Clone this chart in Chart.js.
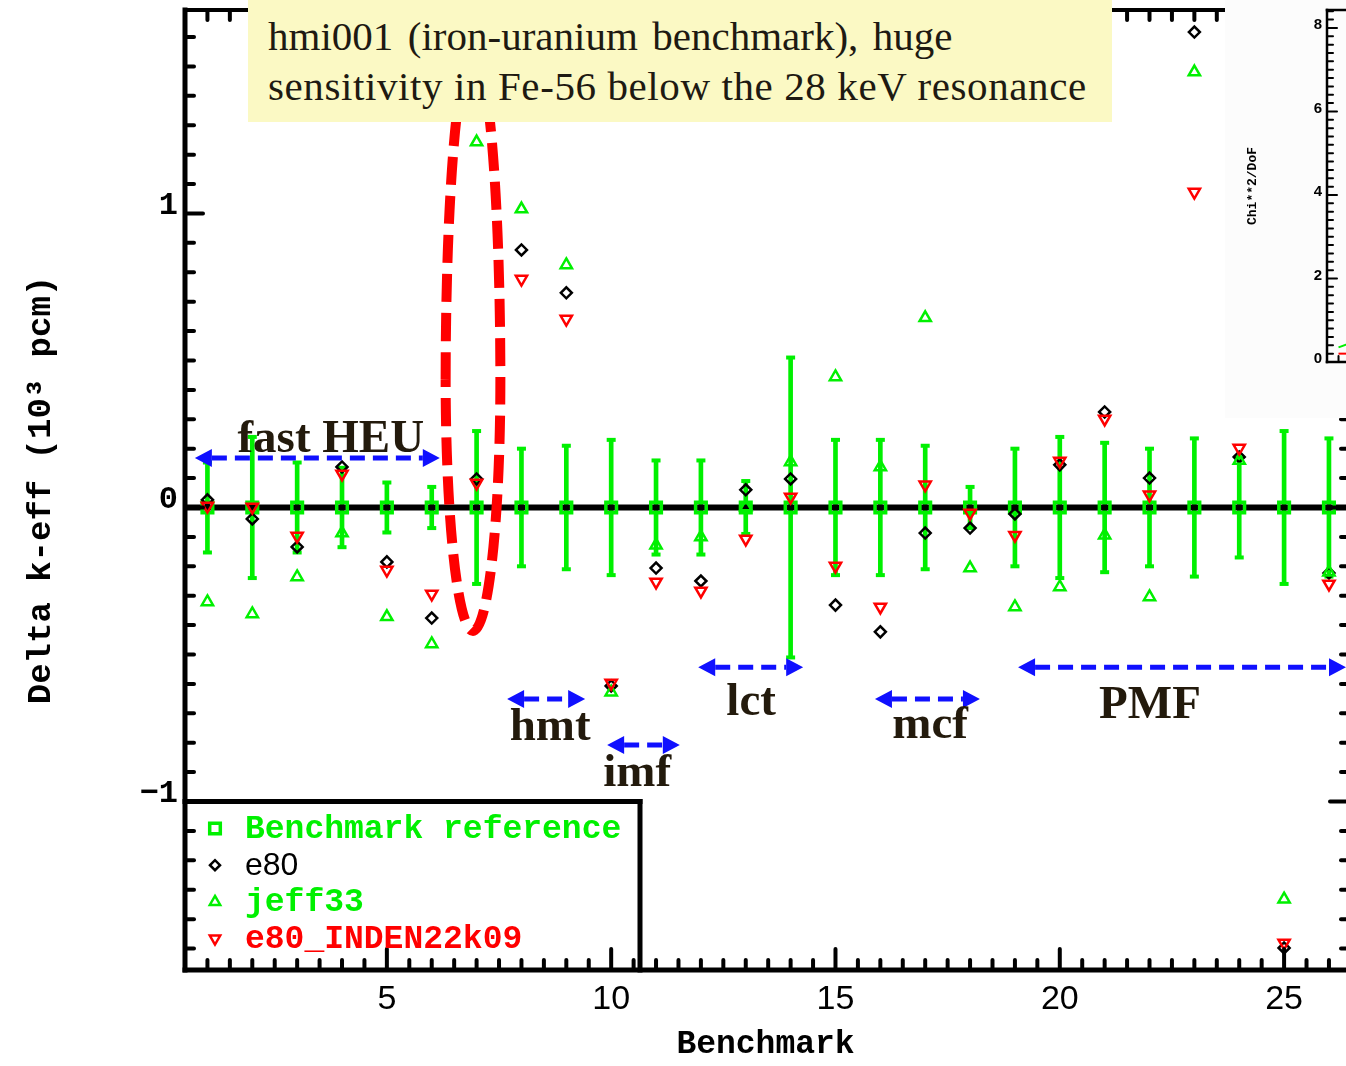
<!DOCTYPE html>
<html>
<head>
<meta charset="utf-8">
<script src="https://cdn.jsdelivr.net/npm/chart.js@4.4.1/dist/chart.umd.min.js"></script>
<style>
  html, body { margin: 0; padding: 0; background: #fff; }
  #wrap { position: relative; width: 1346px; height: 1066px; overflow: hidden; }
  #main { position: absolute; left: 0; top: 0; }
  #note {
    position: absolute; left: 248px; top: 0; width: 864px; height: 122px;
    box-sizing: border-box; padding: 11px 0 0 20px; background: #fbf9c4;
    font: 41px "Liberation Serif", serif; line-height: 50px; color: #1e1a12; white-space: nowrap;
  }
  #note .wide { letter-spacing: 0.6px; }
  #note .gap { word-spacing: -3px; }
  #inset { position: absolute; left: 1225px; top: 0; width: 121px; height: 418px; background: #fcfcfc; overflow: hidden; }
  #chi { position: absolute; left: 0; top: 0; }
</style>
</head>
<body>
<div id="wrap">
  <canvas id="main" width="1346" height="1066"></canvas>
  <div id="note"><span class="gap">hmi001&nbsp; (iron-uranium&nbsp; benchmark),&nbsp; huge</span><br><span class="wide">sensitivity in Fe-56 below the 28 keV resonance</span></div>
  <div id="inset"><canvas id="chi" width="400" height="418"></canvas></div>
</div>
<script>
// benchmark index on x, delta k-eff in units of 1000 pcm on y
const benchmarks = [1, 2, 3, 4, 5, 6, 7, 8, 9, 10, 11, 12, 13, 14, 15, 16, 17, 18, 19, 20, 21, 22, 23, 24, 25, 26];
const reference = [0, 0, 0, 0, 0, 0, 0, 0, 0, 0, 0, 0, 0, 0, 0, 0, 0, 0, 0, 0, 0, 0, 0, 0, 0, 0];
const referenceError = [0.153, 0.24, 0.153, 0.135, 0.085, 0.07, 0.26, 0.20, 0.21, 0.23, 0.16, 0.16, 0.09, 0.51,
  0.23, 0.23, 0.21, 0.07, 0.20, 0.24, 0.22, 0.20, 0.235, 0.17, 0.26, 0.235];
const e80 = [0.026, -0.039, -0.134, 0.138, -0.185, -0.376, 0.097, 0.876, 0.730, -0.607, -0.206, -0.250, 0.060,
  0.097, -0.332, -0.423, -0.087, -0.070, -0.022, 0.145, 0.325, 0.100, 1.617, 0.172, -1.498, -0.223];
const jeff33 = [-0.321, -0.362, -0.236, -0.087, -0.372, -0.464, 1.243, 1.015, 0.825, -0.628, -0.128, -0.100, 0.002,
  0.155, 0.444, 0.138, 0.645, -0.206, -0.338, -0.270, -0.094, -0.304, 1.481, 0.160, -1.332, -0.220];
const e80Inden = [0.005, 0.002, -0.097, 0.114, -0.213, -0.294, 0.083, 0.777, 0.641, -0.597, -0.253, -0.284, -0.107,
  0.036, -0.199, -0.338, 0.077, -0.019, -0.094, 0.158, 0.301, 0.043, 1.073, 0.202, -1.481, -0.260];

const xTickValues = [5, 10, 15, 20, 25];
const yTickValues = [-1, 0, 1];

// benchmark families marked with arrows
const groupNames = ['fast HEU', 'hmt', 'imf', 'lct', 'mcf', 'PMF'];
const groupStart = [0.72, 7.68, 9.91, 11.94, 15.88, 19.07];
const groupEnd = [6.18, 9.42, 11.53, 14.28, 18.22, 26.38];

// chi**2/DoF panel
const chiX = [1, 2];
const chiJeff = [0.35, 0.55];
const chiInden = [0.2, 0.2];
const chiTicks = [0, 2, 4, 6, 8];

const X_MIN = 0.5, X_MAX = 26.38, Y_MIN = -1.573, Y_MAX = 1.692;
const GREEN = '#00f000', RED = '#ff0000', BLUE = '#1010ff', INK = '#231a0c';

const pts = vals => benchmarks.map((b, i) => ({x: b, y: vals[i]}));
const bars = benchmarks.map((b, i) => ({x: b, y: [reference[i] - referenceError[i], reference[i] + referenceError[i]]}));
const caps = benchmarks.flatMap((b, i) => [
  {x: b, y: reference[i] - referenceError[i]},
  {x: b, y: reference[i] + referenceError[i]}
]);

function ticksOn(chart, cb) {
  const {ctx} = chart;
  ctx.save();
  ctx.strokeStyle = '#000';
  ctx.lineCap = 'round';
  cb(ctx);
  ctx.restore();
}

function seg(ctx, x1, y1, x2, y2) {
  ctx.beginPath();
  ctx.moveTo(x1, y1);
  ctx.lineTo(x2, y2);
  ctx.stroke();
}

// keep the plot box exactly where afterFit puts it
function noPadX(s, h) { s.height = h; s.paddingLeft = 0; s.paddingRight = 0; }
function noPadY(s, w) { s.width = w; s.paddingTop = 0; s.paddingBottom = 0; }

// axis frame with inward ticks
const framePlugin = {
  id: 'frame',
  afterDatasetsDraw(chart) {
    const a = chart.chartArea, x = chart.scales.x, y = chart.scales.y;
    ticksOn(chart, ctx => {
      ctx.lineWidth = 4;
      for (let i = -15; i <= 16; i++) {
        const py = y.getPixelForValue(i / 10);
        const major = i % 10 === 0;
        seg(ctx, a.left, py, a.left + (major ? 18 : 9), py);
        seg(ctx, a.right - (major ? 16 : 5), py, a.right, py);
      }
      for (let i = 2; i <= 52; i++) {
        const v = i / 2;
        const px = x.getPixelForValue(v);
        const len = v % 5 === 0 ? 21 : 10;
        seg(ctx, px, a.bottom, px, a.bottom - len);
        seg(ctx, px, a.top, px, a.top + len);
      }
      ctx.lineCap = 'square';
      ctx.lineWidth = 5;
      seg(ctx, a.left, a.top, a.left, a.bottom);
      seg(ctx, a.left, a.bottom, a.right, a.bottom);
      ctx.lineWidth = 4;
      seg(ctx, a.left, a.top, a.right, a.top);
    });
  }
};

// boxed legend in the lower-left corner
const legendPlugin = {
  id: 'boxLegend',
  afterDraw(chart) {
    const {ctx} = chart;
    const a = chart.chartArea, y = chart.scales.y;
    const top = y.getPixelForValue(-1), right = a.left + 455;
    ctx.save();
    ctx.strokeStyle = '#000';
    ctx.lineWidth = 5;
    ctx.lineCap = 'square';
    seg(ctx, a.left, top, right, top);
    seg(ctx, right, top, right, a.bottom);
    const rows = [
      {ds: 3, style: 'rect', r: 7.5, rot: 0, font: 'bold 33px "Liberation Mono"'},
      {ds: 2, style: 'rectRot', r: 5, rot: 0, font: '32px "Liberation Sans"'},
      {ds: 1, style: 'triangle', r: 6, rot: 0, font: 'bold 33px "Liberation Mono"'},
      {ds: 0, style: 'triangle', r: 6, rot: 180, font: 'bold 33px "Liberation Mono"'}
    ];
    rows.forEach((row, k) => {
      const d = chart.data.datasets[row.ds];
      const py = top + 27 + k * 36.7;
      ctx.strokeStyle = d.borderColor;
      ctx.fillStyle = 'rgba(0,0,0,0)';
      ctx.lineWidth = k === 0 ? 3.5 : 2.5;
      Chart.helpers.drawPoint(ctx, {pointStyle: row.style, radius: row.r, rotation: row.rot, borderWidth: ctx.lineWidth}, a.left + 30, py);
      ctx.fillStyle = d.borderColor;
      ctx.font = row.font;
      ctx.textBaseline = 'middle';
      ctx.textAlign = 'left';
      ctx.fillText(d.label, a.left + 60, py + 1);
    });
    ctx.restore();
  }
};

// family arrows, their names and the ring around hmi001
const notesPlugin = {
  id: 'notes',
  afterDraw(chart) {
    const {ctx} = chart;
    const x = chart.scales.x, y = chart.scales.y;
    const arrowY = [0.168, -0.651, -0.808, -0.543, -0.651, -0.543];
    const nameX = [3.75, 8.64, 10.58, 13.12, 17.11, 22.01];
    const nameY = [0.189, -0.791, -0.947, -0.706, -0.784, -0.716];
    ctx.save();

    // ring: a taller upper half so it runs up under the note box
    const cx = x.getPixelForValue(6.92), cy = y.getPixelForValue(0.434);
    const rx = x.getPixelForValue(6.92 + 0.61) - cx;
    const ryTop = cy - y.getPixelForValue(0.434 + 1.12);
    const ryBot = y.getPixelForValue(0.434 - 0.854) - cy;
    ctx.strokeStyle = RED;
    ctx.lineWidth = 10;
    ctx.setLineDash([28, 11]);
    ctx.beginPath();
    ctx.ellipse(cx, cy, rx, ryTop, 0, Math.PI, Math.PI * 2);
    ctx.ellipse(cx, cy, rx, ryBot, 0, 0, Math.PI);
    ctx.stroke();

    // arrows
    const head = 17, half = 9;
    groupNames.forEach((name, i) => {
      const x1 = x.getPixelForValue(groupStart[i]), x2 = x.getPixelForValue(groupEnd[i]);
      const py = y.getPixelForValue(arrowY[i]);
      ctx.strokeStyle = BLUE;
      ctx.fillStyle = BLUE;
      ctx.lineWidth = 5;
      ctx.setLineDash([15, 8]);
      seg(ctx, x1 + head, py, x2 - head, py);
      ctx.setLineDash([]);
      ctx.beginPath();
      ctx.moveTo(x1, py); ctx.lineTo(x1 + head, py - half); ctx.lineTo(x1 + head, py + half); ctx.closePath();
      ctx.moveTo(x2, py); ctx.lineTo(x2 - head, py - half); ctx.lineTo(x2 - head, py + half); ctx.closePath();
      ctx.fill();

      ctx.fillStyle = INK;
      ctx.font = 'bold 47px "Liberation Serif"';
      ctx.textAlign = 'center';
      ctx.textBaseline = 'alphabetic';
      ctx.fillText(name, x.getPixelForValue(nameX[i]), y.getPixelForValue(nameY[i]));
    });
    ctx.restore();
  }
};

new Chart(document.getElementById('main'), {
  type: 'scatter',
  data: {
    datasets: [
      {label: 'e80_INDEN22k09', data: pts(e80Inden), order: 0, pointStyle: 'triangle', rotation: 180,
        pointRadius: 6.5, borderWidth: 2.5, borderColor: RED, backgroundColor: 'rgba(0,0,0,0)'},
      {label: 'jeff33', data: pts(jeff33), order: 1, pointStyle: 'triangle',
        pointRadius: 6.5, borderWidth: 2.5, borderColor: GREEN, backgroundColor: 'rgba(0,0,0,0)'},
      {label: 'e80', data: pts(e80), order: 2, pointStyle: 'rectRot',
        pointRadius: 5.5, borderWidth: 2.5, borderColor: '#000', backgroundColor: 'rgba(0,0,0,0)'},
      {label: 'Benchmark reference', data: pts(reference), order: 3, pointStyle: 'rect',
        pointRadius: 7.5, borderWidth: 3.5, borderColor: GREEN, backgroundColor: 'rgba(0,0,0,0)'},
      {type: 'line', label: 'zero', data: [{x: X_MIN, y: 0}, {x: X_MAX, y: 0}], order: 4,
        borderColor: '#000', borderWidth: 6, pointRadius: 0},
      {label: 'caps', data: caps, order: 5, pointStyle: 'line', pointRadius: 4.5, borderWidth: 4,
        borderColor: GREEN},
      {type: 'bar', label: 'error', data: bars, order: 6, barThickness: 4, grouped: false,
        backgroundColor: GREEN, borderWidth: 0}
    ]
  },
  options: {
    responsive: false,
    devicePixelRatio: 1,
    animation: false,
    events: [],
    layout: {autoPadding: false, padding: {top: 10, right: 0, left: 0, bottom: 0}},
    plugins: {legend: {display: false}, tooltip: {enabled: false}},
    scales: {
      x: {
        type: 'linear', min: X_MIN, max: X_MAX, offset: false,
        grid: {display: false, drawTicks: false}, border: {display: false},
        afterFit: s => noPadX(s, 96),
        afterBuildTicks: s => { s.ticks = xTickValues.map(v => ({value: v})); },
        ticks: {color: '#000', padding: 9, font: {family: 'Liberation Sans', size: 34}},
        title: {display: true, text: 'Benchmark', color: '#000', padding: {top: 0, bottom: 2},
          font: {family: 'Liberation Mono', size: 33, weight: 'bold', lineHeight: 1.2}}
      },
      y: {
        type: 'linear', min: Y_MIN, max: Y_MAX, beginAtZero: false,
        grid: {display: false, drawTicks: false}, border: {display: false},
        afterFit: s => noPadY(s, 185),
        afterBuildTicks: s => { s.ticks = yTickValues.map(v => ({value: v})); },
        ticks: {color: '#000', padding: 7, labelOffset: -8,
          callback: v => (v < 0 ? '\u2212' + Math.abs(v) : String(v)),
          font: {family: 'Liberation Mono', size: 32, weight: 'bold'}},
        title: {display: true, text: 'Delta k-eff (10\u00b3 pcm)', color: '#000', padding: {top: 21, bottom: 0},
          font: {family: 'Liberation Mono', size: 34, weight: 'bold', lineHeight: 1.2}}
      }
    }
  },
  plugins: [framePlugin, legendPlugin, notesPlugin]
});

// small chi**2/DoF panel
const chiFrame = {
  id: 'chiFrame',
  afterDatasetsDraw(chart) {
    const a = chart.chartArea, x = chart.scales.x, y = chart.scales.y;
    ticksOn(chart, ctx => {
      ctx.lineWidth = 2;
      for (let i = 0; i <= 42; i++) {
        const py = y.getPixelForValue(i / 5);
        seg(ctx, a.left, py, a.left + (i % 10 === 0 ? 10 : 6), py);
      }
      for (let i = 1; i <= 12; i++) {
        const px = x.getPixelForValue(i);
        seg(ctx, px, a.bottom, px, a.bottom - 6);
      }
      ctx.lineCap = 'square';
      ctx.lineWidth = 2.5;
      seg(ctx, a.left, a.top, a.left, a.bottom);
      seg(ctx, a.left, a.bottom, a.right, a.bottom);
      seg(ctx, a.left, a.top, a.right, a.top);
    });
  }
};

new Chart(document.getElementById('chi'), {
  type: 'line',
  data: {
    datasets: [
      {label: 'jeff33', data: chiX.map((v, i) => ({x: v, y: chiJeff[i]})), borderColor: GREEN, borderWidth: 2, pointRadius: 0},
      {label: 'e80_INDEN22k09', data: chiX.map((v, i) => ({x: v, y: chiInden[i]})), borderColor: RED, borderWidth: 2, pointRadius: 0}
    ]
  },
  options: {
    responsive: false,
    devicePixelRatio: 1,
    animation: false,
    events: [],
    layout: {autoPadding: false, padding: {top: 10, right: 10, left: 0, bottom: 56}},
    plugins: {legend: {display: false}, tooltip: {enabled: false}},
    scales: {
      x: {type: 'linear', min: 0.5, max: 13, display: false},
      y: {
        type: 'linear', min: 0, max: 8.43,
        grid: {display: false, drawTicks: false}, border: {display: false},
        afterFit: s => noPadY(s, 102),
        afterBuildTicks: s => { s.ticks = chiTicks.map(v => ({value: v})); },
        ticks: {color: '#000', padding: 5, labelOffset: -3, font: {family: 'Liberation Sans', size: 15, weight: 'bold'}},
        title: {display: true, text: 'Chi**2/DoF', color: '#000', padding: {top: 20, bottom: 0},
          font: {family: 'Liberation Mono', size: 13, weight: 'bold', lineHeight: 1.2}}
      }
    }
  },
  plugins: [chiFrame]
});
</script>
</body>
</html>
